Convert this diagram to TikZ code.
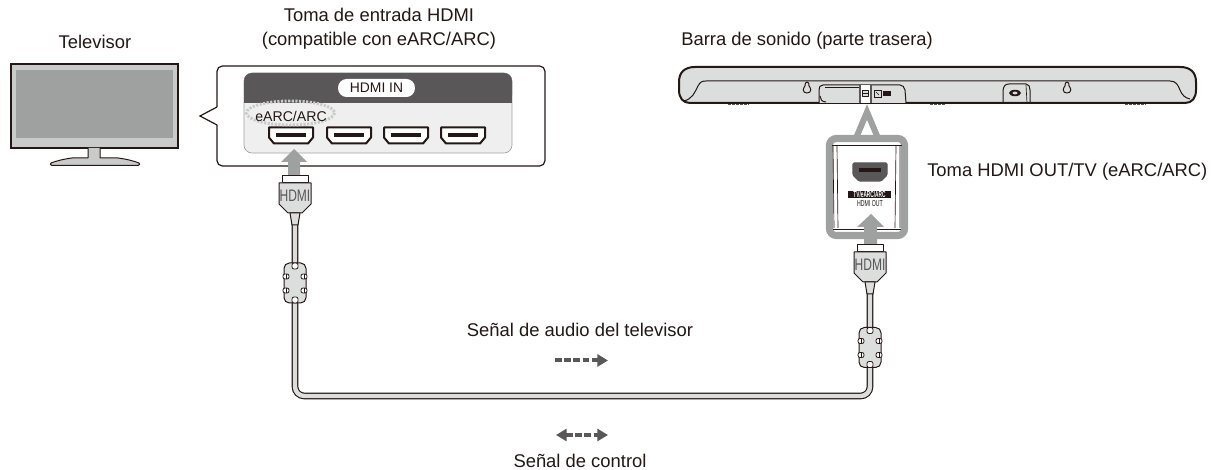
\documentclass[tikz,border=0pt]{standalone}
\usepackage{fontspec}
\setmainfont{Liberation Sans}
\usetikzlibrary{arrows.meta}
\definecolor{ink}{HTML}{231815}
\definecolor{panel}{HTML}{595757}
\definecolor{soft}{HTML}{DCDDDD}
\definecolor{mid}{HTML}{9FA0A0}
\definecolor{bezel}{HTML}{C9CACA}
\definecolor{pale}{HTML}{EFEFEF}
\tikzset{
 x=0.75pt,y=-0.75pt,
 lbl/.style={font=\fontsize{13.8pt}{16pt}\selectfont,text=ink,inner sep=0pt,align=center},
 thinline/.style={draw=ink,line width=0.75pt,line join=round},
 sigarrow/.style={draw=panel,line width=3pt,dash pattern=on 5pt off 1.9pt,-{Triangle[length=8pt,width=9pt]}},
 sigarrowb/.style={draw=panel,line width=3pt,dash pattern=on 5pt off 1.9pt,{Triangle[length=8pt,width=9pt]}-{Triangle[length=8pt,width=9pt]}},
 cableout/.style={draw=ink,line width=5pt,rounded corners=7pt},
 cablein/.style={draw=soft,line width=3.3pt,rounded corners=7pt},
 hdmiplug/.pic={
   \draw[thinline,fill=white] (-13,-7) rectangle (13,0);
   \draw[thinline,fill=soft] (-16,0) -- (16,0) -- (16,21) -- (7,30) -- (-7,30) -- (-16,21) -- cycle;
   \draw[thinline,fill=soft] (-5,30) -- (5,30) -- (3,42) -- (-3,42) -- cycle;
   \node[inner sep=0pt,text=panel] at (0,13) {\scalebox{0.72}[1]{\fontsize{12.5pt}{14pt}\selectfont HDMI}};
 },
 ferrite/.pic={
   \draw[thinline,fill=soft,rounded corners=4pt] (-11,-20) rectangle (11,20);
   \foreach \a/\b in {-9/-9,-9/5,9/-9,9/5}{
     \draw[draw=ink,line width=0.6pt,fill=white,rounded corners=1.5pt] (\a-3,\b) rectangle (\a+3,\b+5);
     \draw[draw=ink,line width=0.6pt] (\a,\b) -- (\a,\b+5);}
   \draw[draw=ink,line width=0.6pt,fill=white,rounded corners=1.5pt] (-3,-20) rectangle (3,-14);
   \draw[draw=ink,line width=0.6pt,fill=white,rounded corners=1.5pt] (-3,14) rectangle (3,20);
 },
 hdmiport/.pic={
   \draw[draw=ink,line width=1.5pt,fill=white,line join=round] (-22,-8) -- (22,-8) -- (22,2) -- (17,8) -- (-17,8) -- (-22,2) -- cycle;
   \fill[ink] (-15,-2) rectangle (15,2);
 },
 grayarrow/.style={fill=mid,draw=none},
}
\begin{document}
\begin{tikzpicture}
\useasboundingbox (0,0) rectangle (1211,470);
\fill[white] (0,0) rectangle (1211,470);

% Television
\node[lbl] (tvlabel) at (95,42) {Televisor};
\draw[draw=ink,line width=1pt,fill=bezel] (11,64) rectangle (178,148);
\fill[mid] (16,70) rectangle (173,138);
\draw[thinline,fill=bezel] (88,148) -- (88,158) -- (72,158) .. controls (64,159) and (56,161) .. (51,163) .. controls (50,164) and (50,165) .. (52,165.5) -- (138,165.5) .. controls (140,165) and (140,164) .. (139,163) .. controls (134,161) and (126,159) .. (118,158) -- (100,158) -- (100,148);

% Callout
\draw[draw=ink,line width=0.9pt,fill=white,rounded corners=4pt] (217,107) -- (217,66) -- (545,66) -- (545,166) -- (217,166) -- (217,125);
\fill[white] (216,108) rectangle (219,124);
\draw[draw=ink,line width=0.9pt,line join=miter] (217,107) -- (200,116) -- (217,125);
\node[lbl] (inlabel) at (379,29) {Toma de entrada HDMI\\[2pt](compatible con eARC/ARC)};
\draw[draw=mid,line width=0.5pt,fill=pale,rounded corners=6pt] (244,73) rectangle (512,153);
\fill[panel,rounded corners=6pt] (244,73) -- (512,73) -- (512,103) -- (244,103) -- cycle;
\fill[panel] (244,90) rectangle (512,103);
\node[fill=white,rounded corners=6.5pt,minimum width=57.7pt,minimum height=13.5pt,inner sep=0pt,text=ink,font=\fontsize{10.4pt}{12pt}\selectfont] (hdmiin) at (376.5,88) {HDMI IN};
\pic at (291,135.5) {hdmiport};
\pic at (349,135.5) {hdmiport};
\pic at (406,135.5) {hdmiport};
\pic at (463,135.5) {hdmiport};
\draw[draw=bezel,line width=2.2pt,dash pattern=on 1.6pt off 1.1pt] (290.5,113) ellipse [x radius=44,y radius=12];
\node[lbl,font=\fontsize{10.6pt}{12pt}\selectfont] (earc) at (291,116) {eARC/ARC};
\fill[grayarrow] (294,149) -- (307,162) -- (300,162) -- (300,177) -- (288,177) -- (288,162) -- (281,162) -- cycle;

% Soundbar
\node[lbl,anchor=west] (barlabel) at (681,41) {Barra de sonido (parte trasera)};
\foreach \p/\q in {728/749,930/945,1125/1146}{
  \draw[draw=panel,line width=1.2pt,dash pattern=on 2pt off 1pt] (\p,104) -- (\q,104);}
\draw[draw=ink,line width=1.5pt,fill=soft] (695,67) -- (1180,67) .. controls (1190,67) and (1196,72) .. (1196,82) -- (1196,90) .. controls (1196,98) and (1192,103) .. (1185,103) -- (690,103) .. controls (683,103) and (679,98) .. (679,90) -- (679,82) .. controls (679,72) and (685,67) .. (695,67) -- cycle;
\draw[thinline] (683,101) .. controls (692,100) and (695,92) .. (698,86) .. controls (700,82) and (702,81) .. (706,81) -- (1170,81) .. controls (1176,81) and (1178,85) .. (1180,90) .. controls (1182,95) and (1185,98) .. (1190,99);
\path[thinline,fill=soft] (819,103) -- (819,90) .. controls (819,87) and (820,85) .. (823,85) -- (900,85) .. controls (903,85) and (904,87) .. (905,90) -- (906,103);
\draw[thinline] (825,88) -- (860,88);
\draw[thinline] (820,96) .. controls (820,99) and (822,102) .. (826,102);
\fill[white] (860,85) rectangle (870,103);
\draw[draw=panel,line width=0.9pt] (860,85) -- (860,103);
\draw[draw=panel,line width=1.3pt] (871,85) -- (871,103);
\draw[thinline,fill=soft] (862,91) rectangle (868,96.5);
\draw[draw=ink,line width=0.5pt] (862,93.5) -- (868,93.5);
\draw[draw=ink,line width=0.6pt] (874,90) rectangle (881,97);
\draw[draw=ink,line width=0.4pt] (876,92) -- (879,95);
\fill[ink] (883,91) rectangle (891,96.5);
\draw[thinline] (1003,103) -- (1003,90) .. controls (1004,86) and (1005,84) .. (1009,84) -- (1026,84) .. controls (1029,84) and (1030,87) .. (1030,90) -- (1030,103);
\draw[draw=ink,line width=0.5pt] (1026,85) -- (1027,103);
\fill[ink] (1015,93) ellipse [x radius=6,y radius=3.2];
\fill[soft] (1015,93) ellipse [x radius=2.5,y radius=1.4];
\foreach \k in {807,1067}{
  \draw[thinline] (\k,82) .. controls (\k+2,82) and (\k+2,84) .. (\k+1.8,85.5) .. controls (\k+3,87) and (\k+3.8,89) .. (\k+3.8,90) .. controls (\k+3.8,92) and (\k+2,93) .. (\k,93) .. controls (\k-2,93) and (\k-3.8,92) .. (\k-3.8,90) .. controls (\k-3.8,89) and (\k-3,87) .. (\k-1.8,85.5) .. controls (\k-2,84) and (\k-2,82) .. (\k,82) -- cycle;
}

% Gray magnifier
\draw[draw=mid,line width=4.5pt,line join=miter] (856.5,137) -- (867,112) -- (877.5,137);
\draw[draw=mid,line width=5.3pt,fill=white,rounded corners=5pt] (829.5,138.5) rectangle (904.5,235.5);
\draw[draw=ink,line width=0.5pt] (832,145) -- (902,145) (833,229) -- (901,229);
\draw[draw=ink,line width=0.5pt] (833,146) -- (834,228) (837,146) -- (838,228) (896,146) -- (895,228) (900,146) -- (900,228);
\draw[draw=panel,fill=panel,line width=1pt,rounded corners=1pt] (853,163) -- (887,163) -- (887,175) -- (881,181) -- (859,181) -- (853,175) -- cycle;
\fill[ink] (859,168) rectangle (881,172.5);
\node[fill=ink,text=white,inner sep=0pt,minimum width=32pt,minimum height=5.6pt] (tvearc) at (869.5,194.5) {\scalebox{0.55}[1]{\fontsize{6.5pt}{7pt}\selectfont\bfseries TV/eARC/ARC}};
\node[inner sep=0pt,text=ink] (hdmiout) at (870,204) {\scalebox{0.6}[1]{\fontsize{6.5pt}{7pt}\selectfont HDMI OUT}};
\node[lbl,anchor=west] (outlabel) at (927,172) {Toma HDMI OUT/TV (eARC/ARC)};
\fill[grayarrow] (871,214) -- (884,227) -- (877,227) -- (877,245) -- (864,245) -- (864,227) -- (857,227) -- cycle;

% Cable
\coordinate (leftend) at (295,216);
\coordinate (rightend) at (870,282);
\coordinate (cornerl) at (295,396);
\coordinate (cornerr) at (870,396);
\draw[cableout] (leftend) -- (cornerl) -- (cornerr) -- (rightend);
\draw[cablein] (leftend) -- (cornerl) -- (cornerr) -- (rightend);
\pic at (295,183) {hdmiplug};
\pic at (870,252) {hdmiplug};
\pic at (295,283) {ferrite};
\pic at (870,347.5) {ferrite};

% Signals
\node[lbl] (audiolabel) at (580,330) {Señal de audio del televisor};
\coordinate (aa) at (555,360.5);
\coordinate (ab) at (608,360.5);
\draw[sigarrow] (aa) -- (ab);
\coordinate (ca) at (556,435);
\coordinate (cb) at (608,435);
\draw[sigarrowb] (ca) -- (cb);
\node[lbl] (ctrllabel) at (580,461) {Señal de control};
\end{tikzpicture}
\end{document}
